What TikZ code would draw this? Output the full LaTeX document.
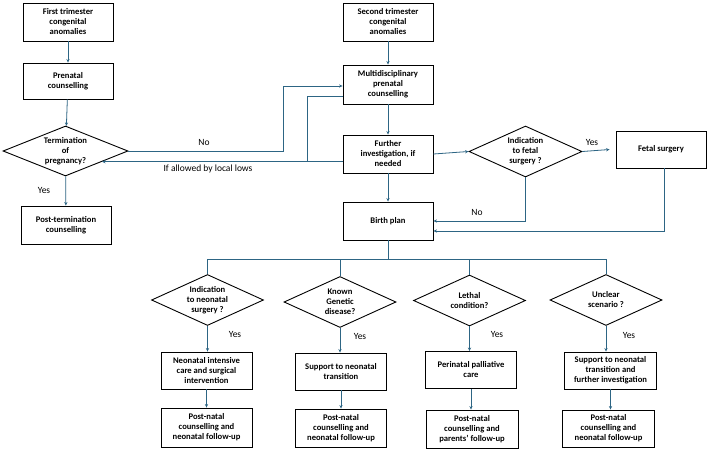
\documentclass[tikz,border=0pt]{standalone}
\usepackage{fontspec}
\setmainfont{Carlito}
\usetikzlibrary{shapes.geometric,arrows.meta,calc}
\definecolor{conncol}{HTML}{2D6584}
\begin{document}
\begin{tikzpicture}[x=1pt,y=-1pt,
  box/.style={draw=black,line width=0.9pt,rectangle,minimum width=90pt,minimum height=37pt,
    inner sep=1pt,align=center,font=\fontsize{8.6}{10}\selectfont\bfseries},
  dia/.style={draw=black,line width=0.9pt,diamond,aspect=2.2,inner sep=0pt,minimum width=112pt,
    minimum height=51pt,align=center,font=\fontsize{8.6}{10}\selectfont\bfseries},
  conn/.style={draw=conncol,line width=0.8pt},
  arr/.style={conn,-{Stealth[length=3.5pt,width=3.2pt]}},
  lbl/.style={font=\fontsize{9.5}{11}\selectfont,inner sep=0pt}]
\path[use as bounding box,fill=white] (0,0) rectangle (709,452);
% left column
\node[box,minimum height=38pt] (fst) at (68,22) {First trimester\\congenital\\anomalies};
\node[box,minimum height=36pt] (pc) at (68,81) {Prenatal\\counselling};
\node[dia,minimum width=125pt,minimum height=50pt] (top) at (65.5,151) {Termination\\of\\pregnancy?};
\node[box,minimum height=38pt] (ptc) at (66,225) {Post-termination\\counselling};
% middle column
\node[box,minimum height=38pt] (sta) at (388,22) {Second trimester\\congenital\\anomalies};
\node[box,minimum height=39pt] (mpc) at (388,84.5) {Multidisciplinary\\prenatal\\counselling};
\node[box,minimum height=38pt] (fi) at (388,154) {Further\\investigation, if\\needed};
\node[box,minimum height=38pt] (bp) at (388,221) {Birth plan};
% right
\node[dia,minimum width=113pt] (ifs) at (525.5,151.5) {Indication\\to fetal\\surgery ?};
\node[box] (fs) at (661,149.5) {Fetal surgery};
% bottom diamonds
\node[dia] (d1) at (207.5,300) {Indication\\to neonatal\\surgery ?};
\node[dia] (d2) at (340,302) {Known\\Genetic\\disease?};
\node[dia] (d3) at (469.5,300.5) {Lethal\\condition?};
\node[dia] (d4) at (606,300) {Unclear\\scenario ?};
% bottom boxes
\node[box,minimum width=91pt] (b1) at (206.5,370.5) {Neonatal intensive\\care and surgical\\intervention};
\node[box,minimum width=91pt] (b2) at (341,371.5) {Support to neonatal\\transition};
\node[box,minimum width=91pt] (b3) at (471,370) {Perinatal palliative\\care};
\node[box,minimum width=92pt] (b4) at (610.5,370.5) {Support to neonatal\\transition and\\further investigation};
\node[box,minimum width=91pt,minimum height=39pt] (c1) at (206.5,427.5) {Post-natal\\counselling and\\neonatal follow-up};
\node[box,minimum width=91pt,minimum height=38pt] (c2) at (341,428) {Post-natal\\counselling and\\neonatal follow-up};
\node[box,minimum width=92pt,minimum height=38pt] (c3) at (472,429) {Post-natal\\counselling and\\parents' follow-up};
\node[box,minimum width=92pt,minimum height=37pt] (c4) at (608.5,428.5) {Post-natal\\counselling and\\neonatal follow-up};
% labels
\node[lbl] (yes0) at (44,190) {Yes};
\node[lbl] (no0) at (204,142) {No};
\node[lbl] (allow) at (208,169) {If allowed by local lows};
\node[lbl] (yes1) at (592,142) {Yes};
\node[lbl] (no1) at (477,212) {No};
\node[lbl] (y1) at (235,334) {Yes};
\node[lbl] (y2) at (360,336) {Yes};
\node[lbl] (y3) at (497,334) {Yes};
\node[lbl] (y4) at (629,335) {Yes};
% coordinates
\coordinate (n1) at (283,151);
\coordinate (e1) at ($(top.east)!0.42!(top.south)$);
\coordinate (br) at (307,161);
\coordinate (j) at (388,259);
% left connectors
\draw[arr] (fst) -- (pc);
\draw[arr] (pc) -- (top);
\draw[arr] (top) -- (ptc);
\draw[arr] (top.east) -- (n1) |- ([yshift=-1.5pt]mpc.west);
\draw[arr] (fi.west |- e1) -- (e1);
\draw[conn] (br) |- ([yshift=-11.5pt]mpc.west);
% middle connectors
\draw[arr] (sta) -- (mpc);
\draw[arr] (mpc) -- (fi);
\draw[arr] (fi) -- (bp);
\draw[arr] (fi.east) -- (ifs.west);
\draw[arr] (ifs.east) -- ([xshift=-6pt]fs.west);
\draw[arr] (ifs.south) |- (bp.east);
\draw[arr] ([xshift=3pt]fs.south) |- ([yshift=-10pt]bp.east);
% bottom tree
\draw[conn] (bp.south) -- (j);
\draw[conn] (d1.north) -- (d1.north |- j) -- (d4.north |- j) -- (d4.north);
\draw[conn] (d2.north) -- (d2.north |- j);
\draw[conn] (d3.north) -- (d3.north |- j);
\foreach \i in {1,2,3,4}{
  \draw[arr] (d\i.south) -- (d\i.south |- b\i.north);
  \draw[arr] (b\i.south) -- (b\i.south |- c\i.north);
}
\end{tikzpicture}
\end{document}
